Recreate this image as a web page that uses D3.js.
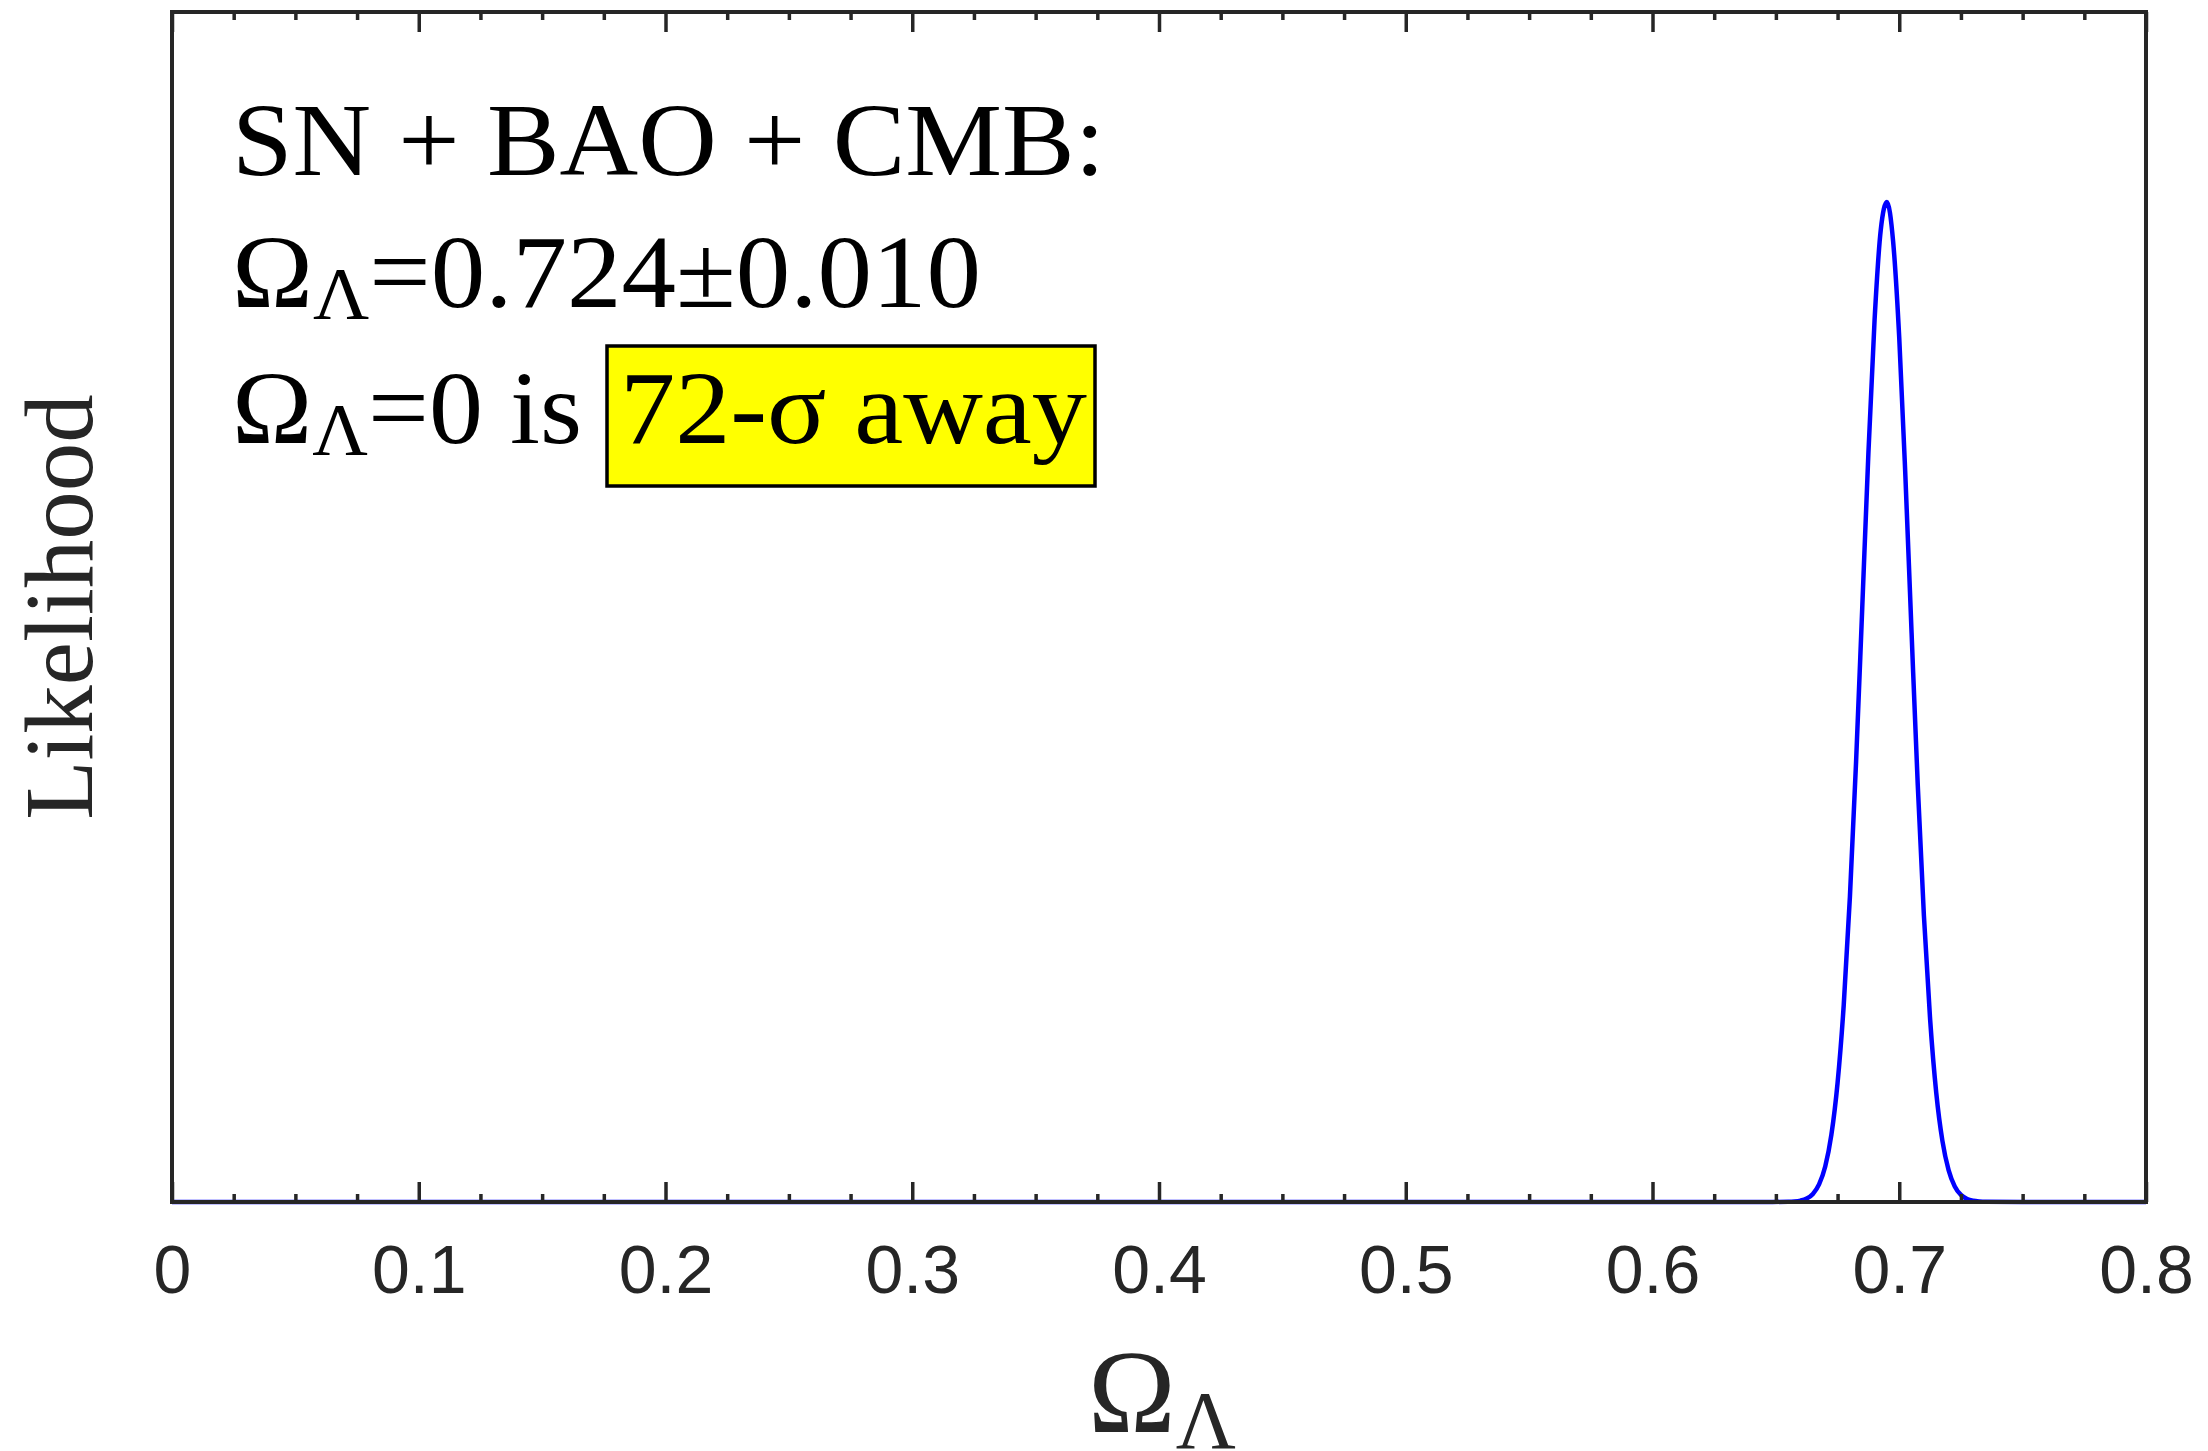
<!DOCTYPE html>
<html><head><meta charset="utf-8">
<script src="https://cdn.jsdelivr.net/npm/d3@7"></script>
<style>body{margin:0;background:#fff}</style></head>
<body>
<svg id="c" width="2208" height="1451"></svg>
<script>
// ---- data ----
const omegaL = [0, 0.64, 0.655, 0.6575, 0.66, 0.6625, 0.665, 0.6675, 0.67, 0.6725, 0.675, 0.6775, 0.68, 0.6825, 0.685, 0.6875, 0.69, 0.6925, 0.695, 0.6975, 0.70, 0.7025, 0.705, 0.7075, 0.71, 0.7125, 0.715, 0.7175, 0.72, 0.7225, 0.725, 0.7275, 0.73, 0.7325, 0.735, 0.75, 0.8];
const likelihood = [0, 0, 0.0002, 0.0005, 0.0014, 0.0035, 0.0081, 0.0176, 0.0355, 0.0673, 0.119, 0.197, 0.305, 0.440, 0.594, 0.749, 0.882, 0.972, 1.000, 0.961, 0.864, 0.725, 0.569, 0.417, 0.286, 0.183, 0.109, 0.061, 0.0319, 0.0156, 0.0071, 0.0030, 0.0012, 0.00045, 0.00016, 0, 0];
const xTickValues = [0, 0.1, 0.2, 0.3, 0.4, 0.5, 0.6, 0.7, 0.8];
const xTickLabels = ["0", "0.1", "0.2", "0.3", "0.4", "0.5", "0.6", "0.7", "0.8"];
const xMinorTicks = [0.025,0.05,0.075,0.125,0.15,0.175,0.225,0.25,0.275,0.325,0.35,0.375,0.425,0.45,0.475,0.525,0.55,0.575,0.625,0.65,0.675,0.725,0.75,0.775];
const line1 = "SN + BAO + CMB:";
const line2rest = "=0.724\u00B10.010";
const line3rest = "=0 is";
const highlight = "72-\u03C3 away";
const yLabel = "Likelihood";

// ---- layout ----
const L = 172, R = 2146, T = 12, B = 1202;
const svg = d3.select("#c");
const x = d3.scaleLinear().domain([0, 0.8]).range([L, R]);
const y = d3.scaleLinear().domain([0, 1.19]).range([B, T]);
const axisColor = "#262626";

// curve
const pts = omegaL.map((v, i) => [v, likelihood[i]]);
svg.append("path")
  .datum(pts)
  .attr("fill", "none")
  .attr("stroke", "#0000ff")
  .attr("stroke-width", 4.5)
  .attr("stroke-linejoin", "round")
  .attr("d", d3.line().x(d => x(d[0])).y(d => y(d[1])).curve(d3.curveMonotoneX));

// axes
function styleAxis(g) {
  g.select(".domain").remove();
  g.selectAll(".tick line").attr("stroke", axisColor).attr("stroke-width", 3.5);
}
const bottomMajor = svg.append("g").attr("transform", `translate(0,${B})`)
  .call(d3.axisBottom(x).tickValues(xTickValues).tickSize(-20).tickPadding(43)
    .tickFormat((d, i) => xTickLabels[i]));
styleAxis(bottomMajor);
bottomMajor.selectAll("text").attr("font-family", "'Liberation Sans', Arial, sans-serif")
  .attr("font-size", 68).attr("fill", axisColor);
const bottomMinor = svg.append("g").attr("transform", `translate(0,${B})`)
  .call(d3.axisBottom(x).tickValues(xMinorTicks).tickSize(-8).tickFormat(""));
styleAxis(bottomMinor);
const topMajor = svg.append("g").attr("transform", `translate(0,${T})`)
  .call(d3.axisTop(x).tickValues(xTickValues).tickSize(-20).tickFormat(""));
styleAxis(topMajor);
const topMinor = svg.append("g").attr("transform", `translate(0,${T})`)
  .call(d3.axisTop(x).tickValues(xMinorTicks).tickSize(-8).tickFormat(""));
styleAxis(topMinor);

// frame
svg.append("rect").attr("x", L).attr("y", T).attr("width", R - L).attr("height", B - T)
  .attr("fill", "none").attr("stroke", axisColor).attr("stroke-width", 4);

// axis labels
const serif = "'Liberation Serif', 'Times New Roman', serif";
const xl = svg.append("text").attr("font-family", serif).attr("fill", axisColor)
  .attr("x", 1088).attr("y", 1432);
xl.append("tspan").attr("font-size", 118).text("\u03A9");
xl.append("tspan").attr("font-size", 83).attr("dy", 16).text("\u039B");

svg.append("text").attr("font-family", serif).attr("fill", axisColor)
  .attr("font-size", 97).attr("text-anchor", "middle")
  .attr("transform", `translate(92,${(T + B) / 2}) rotate(-90)`)
  .text(yLabel);

// annotation
function fitWidth(sel, x0, target) {
  const w = sel.node().getBBox().width;
  const s = target / w;
  sel.attr("transform", `translate(${x0},0) scale(${s},1) translate(${-x0},0)`);
}
const tx = 232;
const t1 = svg.append("text").attr("font-family", serif).attr("font-size", 104)
  .attr("x", tx).attr("y", 175).attr("fill", "#000").text(line1);
fitWidth(t1, tx, 873);

function omegaLine(yb, rest) {
  const t = svg.append("text").attr("font-family", serif).attr("font-size", 104)
    .attr("x", tx).attr("y", yb).attr("fill", "#000");
  t.append("tspan").text("\u03A9");
  t.append("tspan").attr("font-size", 74).attr("dy", 12).text("\u039B");
  t.append("tspan").attr("dy", -12).text(rest);
  return t;
}
const t2 = omegaLine(307, line2rest);
fitWidth(t2, tx, 749);
const t3 = omegaLine(443, line3rest);
fitWidth(t3, tx, 350);

svg.append("rect").attr("x", 607).attr("y", 346).attr("width", 488).attr("height", 140)
  .attr("fill", "#ffff00").attr("stroke", "#000").attr("stroke-width", 3.5);
const t4 = svg.append("text").attr("font-family", serif).attr("font-size", 104)
  .attr("x", 620).attr("y", 443).attr("fill", "#000").text(highlight);
fitWidth(t4, 620, 467);
</script>
</body></html>
